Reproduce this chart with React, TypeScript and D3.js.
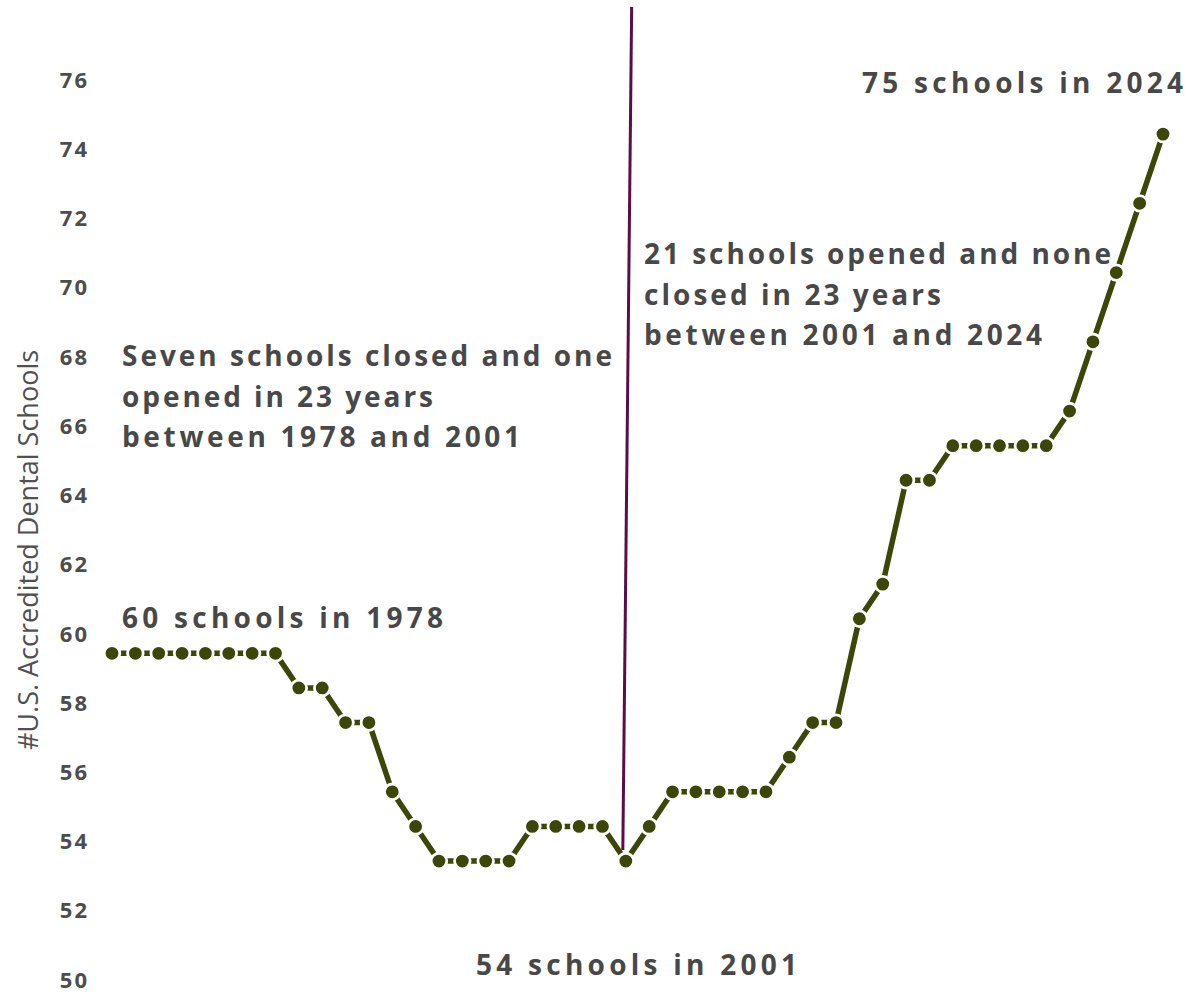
import React from "react";
import * as d3 from "d3";

const years: number[] = [
  1979, 1980, 1981, 1982, 1983, 1984, 1985, 1986, 1987, 1988, 1989, 1990,
  1991, 1992, 1993, 1994, 1995, 1996, 1997, 1998, 1999, 2000, 2001, 2002,
  2003, 2004, 2005, 2006, 2007, 2008, 2009, 2010, 2011, 2012, 2013, 2014,
  2015, 2016, 2017, 2018, 2019, 2020, 2021, 2022, 2023, 2024,
];
const schools: number[] = [
  60, 60, 60, 60, 60, 60, 60, 60, 59, 59, 58, 58, 56, 55, 54, 54, 54, 54, 55,
  55, 55, 55, 54, 55, 56, 56, 56, 56, 56, 57, 58, 58, 61, 62, 65, 65, 66, 66,
  66, 66, 66, 67, 69, 71, 73, 75,
];
const yTicks: number[] = [50, 52, 54, 56, 58, 60, 62, 64, 66, 68, 70, 72, 74, 76];
const leftNote: string[] = [
  "Seven schools closed and one",
  "opened in 23 years",
  "between 1978 and 2001",
];
const rightNote: string[] = [
  "21 schools opened and none",
  "closed in 23 years",
  "between 2001 and 2024",
];

const W = 1186;
const H = 995;
const LINE = "#3d4609";
const TEXT = "#484848";
const FONT = "'Open Sans', Lato, sans-serif";

const leftLens = [490, 311, 398];
const rightLens = [467, 297, 398];

export default function App() {
  const x = d3
    .scaleLinear()
    .domain([years[0], years[years.length - 1]])
    .range([112, 1163]);
  const y = d3.scaleLinear().domain([50, 76]).range([999.5, 99.5]);
  const data = years.map((yr, i) => ({ yr, v: schools[i] }));
  const line = d3
    .line<{ yr: number; v: number }>()
    .x((d) => x(d.yr))
    .y((d) => y(d.v));
  const dipYear = 2001;
  const annoStyle: React.CSSProperties = {
    fontFamily: FONT,
    fontWeight: 700,
    fontSize: 28,
    fill: TEXT,
  };
  return (
    <svg
      width={W}
      height={H}
      style={{ position: "absolute", left: 0, top: 0, background: "#fff" }}
    >
      <g>
        {yTicks.map((t) => (
          <text
            key={t}
            x={89}
            y={y(t) - 19.5}
            dy="0.35em"
            textAnchor="end"
            style={{ fontFamily: FONT, fontWeight: 700, fontSize: 22, fill: "#4d4d4d", letterSpacing: 2 }}
          >
            {t}
          </text>
        ))}
        <text
          transform={`translate(38,${550}) rotate(-90)`}
          textAnchor="middle"
          style={{ fontFamily: FONT, fontWeight: 500, fontSize: 27, fill: "#505050" }}
        >
          #U.S. Accredited Dental Schools
        </text>
      </g>
      <line
        x1={x(dipYear) - 3}
        y1={y(54) - 11}
        x2={x(dipYear + 0.25)}
        y2={7}
        stroke="#5c0d48"
        strokeWidth={3}
      />
      <path d={line(data) || ""} fill="none" stroke={LINE} strokeWidth={5.5} />
      {data.map((d) => (
        <circle
          key={d.yr}
          cx={x(d.yr)}
          cy={y(d.v)}
          r={7.8}
          fill={LINE}
          stroke="#fff"
          strokeWidth={2.8}
        />
      ))}
      <text x={862} y={83} dy="0.35em" textLength={321} lengthAdjust="spacing" style={annoStyle}>
        75 schools in 2024
      </text>
      {rightNote.map((s, i) => (
        <text key={s} x={644} y={254 + i * 40.7} dy="0.35em" textLength={rightLens[i]} lengthAdjust="spacing" style={annoStyle}>
          {s}
        </text>
      ))}
      {leftNote.map((s, i) => (
        <text key={s} x={122} y={356 + i * 40.7} dy="0.35em" textLength={leftLens[i]} lengthAdjust="spacing" style={annoStyle}>
          {s}
        </text>
      ))}
      <text x={122} y={618} dy="0.35em" textLength={321} lengthAdjust="spacing" style={annoStyle}>
        60 schools in 1978
      </text>
      <text x={476} y={965} dy="0.35em" textLength={321} lengthAdjust="spacing" style={annoStyle}>
        54 schools in 2001
      </text>
    </svg>
  );
}
